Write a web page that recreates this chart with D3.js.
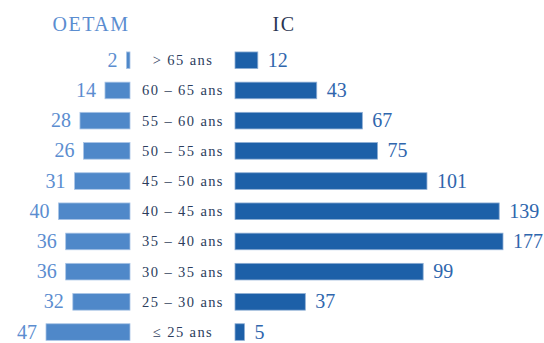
<!DOCTYPE html>
<html>
<head>
<meta charset="utf-8">
<script src="https://cdn.jsdelivr.net/npm/d3@7"></script>
<style>
  html, body { margin: 0; padding: 0; background: #fff; }
  svg { display: block; }
</style>
</head>
<body>
<svg id="chart" width="544" height="343"></svg>
<script>
// Age groups, top to bottom
const ageGroups = ["> 65 ans", "60 – 65 ans", "55 – 60 ans", "50 – 55 ans", "45 – 50 ans",
                   "40 – 45 ans", "35 – 40 ans", "30 – 35 ans", "25 – 30 ans", "≤ 25 ans"];
// Head counts per age group
const oetamValues = [2, 14, 28, 26, 31, 40, 36, 36, 32, 47];
const icValues    = [12, 43, 67, 75, 101, 139, 177, 99, 37, 5];
const seriesTitles = ["OETAM", "IC"];

const svg = d3.select("#chart");
const serif = "'Liberation Serif', 'DejaVu Serif', serif";

// Vertical band per age group
const y = d3.scaleBand()
  .domain(ageGroups)
  .range([45.3, 347])
  .paddingInner(0.45)
  .paddingOuter(0.22);

// Left side grows leftwards from x = 130
const leftEdge = 130;
const xLeft = d3.scaleLinear().domain([0, 47]).range([0, 84]);

// Right side grows rightwards from x = 235; the longest bar is capped at the panel edge
const rightStart = 235;
const xRight = d3.scaleLinear().domain([0, 141]).range([0, 268]).clamp(true);

const colLeft = "#4f88c9", colRight = "#1d60a8";

// Series titles
svg.append("text")
  .attr("x", 91).attr("y", 31)
  .attr("text-anchor", "middle")
  .attr("font-family", serif).attr("font-size", 20)
  .attr("letter-spacing", 1.5)
  .attr("fill", "#5b8dd0")
  .text(seriesTitles[0]);

svg.append("text")
  .attr("x", 284).attr("y", 31)
  .attr("text-anchor", "middle")
  .attr("font-family", serif).attr("font-size", 20)
  .attr("letter-spacing", 1.5)
  .attr("fill", "#2a3552")
  .text(seriesTitles[1]);

const rows = svg.append("g").selectAll("g")
  .data(ageGroups.map((g, i) => ({ group: g, left: oetamValues[i], right: icValues[i] })))
  .join("g");

// OETAM bars
rows.append("rect")
  .attr("x", d => leftEdge - xLeft(d.left))
  .attr("y", d => y(d.group))
  .attr("width", d => xLeft(d.left))
  .attr("height", y.bandwidth())
  .attr("fill", colLeft)
  .attr("stroke", "#a9c4e6").attr("stroke-width", 0.8);

// IC bars
rows.append("rect")
  .attr("x", rightStart)
  .attr("y", d => y(d.group))
  .attr("width", d => xRight(d.right))
  .attr("height", y.bandwidth())
  .attr("fill", colRight)
  .attr("stroke", "#8eaed4").attr("stroke-width", 0.8);

// Age-group labels in the middle column
rows.append("text")
  .attr("x", 183)
  .attr("y", d => y(d.group) + y.bandwidth() / 2 + 5)
  .attr("text-anchor", "middle")
  .attr("font-family", serif).attr("font-size", 14.5)
  .attr("letter-spacing", 1.4)
  .attr("fill", "#2c3d5d")
  .text(d => d.group);

// OETAM value labels
rows.append("text")
  .attr("x", d => leftEdge - xLeft(d.left) - 9)
  .attr("y", d => y(d.group) + y.bandwidth() / 2 + 6.5)
  .attr("text-anchor", "end")
  .attr("font-family", serif).attr("font-size", 20)
  .attr("fill", "#5b8dd0")
  .text(d => d.left);

// IC value labels
rows.append("text")
  .attr("x", d => rightStart + xRight(d.right) + 10)
  .attr("y", d => y(d.group) + y.bandwidth() / 2 + 6.5)
  .attr("text-anchor", "start")
  .attr("font-family", serif).attr("font-size", 20)
  .attr("fill", "#2f66ad")
  .text(d => d.right);
</script>
</body>
</html>
